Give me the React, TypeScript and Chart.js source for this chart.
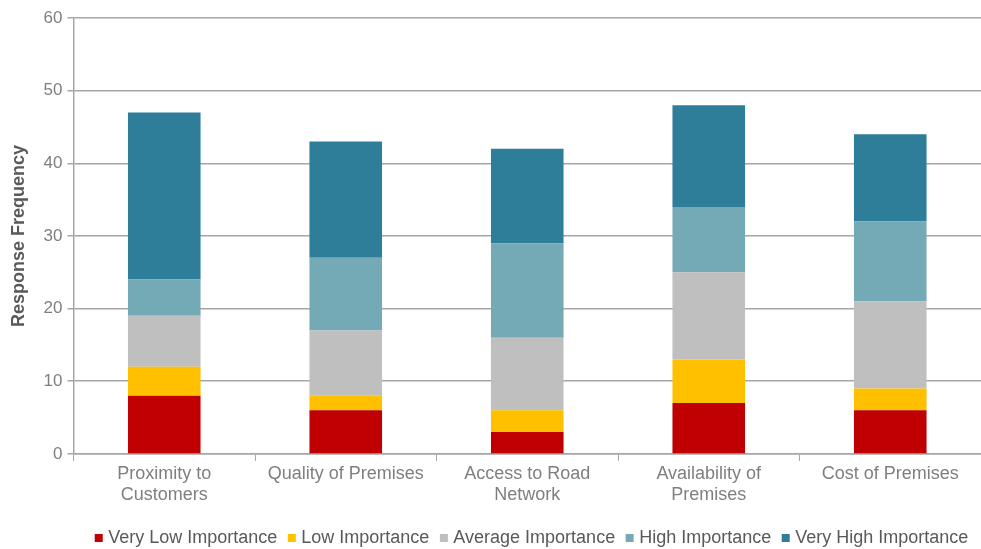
import React, { useEffect, useRef } from "react";
import { Chart, registerables } from "chart.js";

Chart.register(...registerables);

const categories: string[][] = [
  ["Proximity to", "Customers"],
  ["Quality of Premises"],
  ["Access to Road", "Network"],
  ["Availability of", "Premises"],
  ["Cost of Premises"],
];

const veryLow = [8, 6, 3, 7, 6];
const low = [4, 2, 3, 6, 3];
const average = [7, 9, 10, 12, 12];
const high = [5, 10, 13, 9, 11];
const veryHigh = [23, 16, 13, 14, 12];

const yTicks = [0, 10, 20, 30, 40, 50, 60];

const FONT = "'Liberation Sans', Arial, sans-serif";

// Centre the legend row under the plot area instead of the whole canvas.
const legendUnderPlot = {
  id: "legendUnderPlot",
  afterLayout(chart: any) {
    const lg = chart.legend;
    if (!lg) return;
    const area = chart.chartArea;
    const shift = (area.left + area.right) / 2 - (lg.left + lg.right) / 2 + 6;
    lg.left += shift;
    lg.right += shift;
  },
};

export default function App() {
  const ref = useRef<HTMLCanvasElement | null>(null);

  useEffect(() => {
    document.body.style.margin = "0";
    if (!ref.current) return;
    const mk = (label: string, data: number[], color: string) => ({
      label,
      data,
      backgroundColor: color,
      borderWidth: 0,
      barPercentage: 0.4,
      categoryPercentage: 1,
    });
    const chart = new Chart(ref.current, {
      type: "bar",
      data: {
        labels: categories,
        datasets: [
          mk("Very Low Importance", veryLow, "#C00000"),
          mk("Low Importance", low, "#FFC000"),
          mk("Average Importance", average, "#BFBFBF"),
          mk("High Importance", high, "#74A9B6"),
          mk("Very High Importance", veryHigh, "#2E7E99"),
        ],
      },
      plugins: [legendUnderPlot],
      options: {
        animation: false,
        responsive: false,
        maintainAspectRatio: false,
        layout: { padding: { left: 8, right: 0, top: 18, bottom: -8 } },
        plugins: {
          tooltip: { enabled: false },
          legend: {
            position: "bottom",
            labels: {
              font: { family: FONT, size: 18 },
              color: "#595959",
              usePointStyle: true,
              pointStyle: "rect",
              boxWidth: 1,
              boxHeight: 8,
              padding: 14,
            },
          },
        },
        scales: {
          x: {
            stacked: true,
            offset: true,
            afterFit: (scale: any) => {
              scale.height += 6;
            },
            grid: {
              offset: true,
              drawOnChartArea: false,
              drawTicks: true,
              tickLength: 7,
              color: "#A6A6A6",
            },
            border: { color: "#A6A6A6", width: 1.5 },
            ticks: {
              font: { family: FONT, size: 18, lineHeight: 1.17 },
              color: "#7F7F7F",
              maxRotation: 0,
              padding: 3,
            },
          },
          y: {
            stacked: true,
            min: 0,
            max: 60,
            afterBuildTicks: (axis: any) => {
              axis.ticks = yTicks.map((v) => ({ value: v }));
            },
            grid: {
              color: "#A6A6A6",
              lineWidth: 1.5,
              tickLength: 6,
            },
            border: { color: "#A6A6A6", width: 1.5 },
            ticks: {
              font: { family: FONT, size: 17 },
              color: "#7F7F7F",
              padding: 5,
            },
            title: {
              display: true,
              text: "Response Frequency",
              font: { family: FONT, size: 18, weight: "bold" },
              color: "#595959",
              padding: { top: 0, bottom: 9 },
            },
          },
        },
      },
    });
    return () => chart.destroy();
  }, []);

  return (
    <div style={{ width: 981, height: 549, background: "#fff" }}>
      <canvas ref={ref} width={981} height={549} />
    </div>
  );
}
